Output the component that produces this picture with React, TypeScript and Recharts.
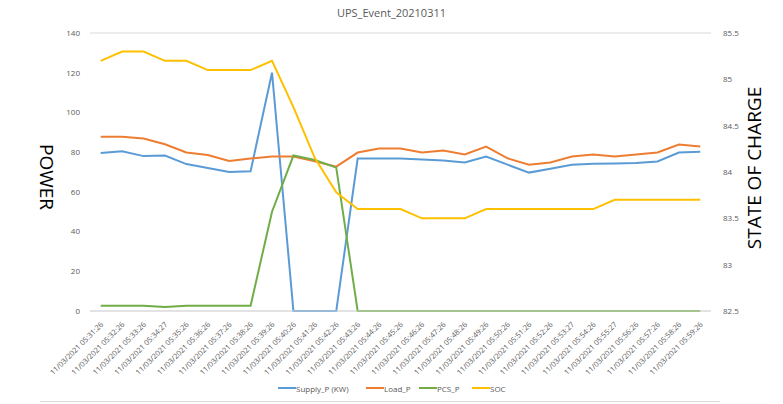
import React from 'react';
import { LineChart, Line, XAxis, YAxis, CartesianGrid } from 'recharts';

const times = [
  '05:31:26', '05:32:26', '05:33:26', '05:34:27', '05:35:26', '05:36:26', '05:37:26', '05:38:26',
  '05:39:26', '05:40:26', '05:41:26', '05:42:26', '05:43:26', '05:44:26', '05:45:26', '05:46:26',
  '05:47:26', '05:48:26', '05:49:26', '05:50:26', '05:51:26', '05:52:26', '05:53:27', '05:54:26',
  '05:55:27', '05:56:26', '05:57:26', '05:58:26', '05:59:26',
];
const supplyP = [79.6, 80.4, 78, 78.3, 74, 72, 70, 70.4, 120, 0, 0, 0, 76.8, 76.8, 76.8, 76.3, 75.8, 74.8, 77.8, 73.7, 69.7, 71.6, 73.6, 74.1, 74.3, 74.5, 75.3, 79.8, 80.2];
const loadP = [87.7, 87.7, 86.9, 84, 79.8, 78.6, 75.6, 76.8, 77.8, 77.8, 75.4, 72.7, 79.8, 81.8, 81.8, 79.8, 80.8, 78.8, 82.8, 76.9, 73.7, 74.8, 77.8, 78.8, 77.8, 78.8, 79.8, 83.8, 82.8];
const pcsP = [2.7, 2.7, 2.7, 2.0, 2.7, 2.7, 2.7, 2.7, 50, 78.3, 76, 72.2, 0, 0, 0, 0, 0, 0, 0, 0, 0, 0, 0, 0, 0, 0, 0, 0, 0];
const soc = [85.2, 85.3, 85.3, 85.2, 85.2, 85.1, 85.1, 85.1, 85.2, 84.7, 84.15, 83.78, 83.6, 83.6, 83.6, 83.5, 83.5, 83.5, 83.6, 83.6, 83.6, 83.6, 83.6, 83.6, 83.7, 83.7, 83.7, 83.7, 83.7];
const powerTicks = [0, 20, 40, 60, 80, 100, 120, 140];
const socTicks = [82.5, 83, 83.5, 84, 84.5, 85, 85.5];

const data = times.map((t, i) => ({
  label: '11/03/2021 ' + t,
  supply: supplyP[i],
  load: loadP[i],
  pcs: pcsP[i],
  soc: soc[i],
}));

const legendItems = [
  { name: 'Supply_P (KW)', color: '#5b9bd5', left: 278 },
  { name: 'Load_P', color: '#ed7d31', left: 366 },
  { name: 'PCS_P', color: '#70ad47', left: 419 },
  { name: 'SOC', color: '#ffc000', left: 472 },
];

const FONT = '"Open Sans", "Noto Sans", sans-serif';
const TEXT = '#595959';

const XTick = (props: any) => {
  const { x, y, payload } = props;
  return (
    <g transform={`translate(${x + 3},${y + 6})`}>
      <text
        x={0}
        y={0}
        textAnchor="end"
        transform="rotate(-45)"
        fontSize={7.5}
        fill={TEXT}
        fontFamily={FONT}
      >
        {payload.value}
      </text>
    </g>
  );
};

export default function App() {
  return (
    <div style={{ position: 'absolute', left: 0, top: 0, width: 783, height: 404, background: '#fff', fontFamily: FONT }}>
      <div style={{ position: 'absolute', top: 5, left: 0, width: 783, textAlign: 'center', fontSize: 11, color: TEXT }}>
        UPS_Event_20210311
      </div>
      <LineChart
        width={783}
        height={404}
        data={data}
        margin={{ top: 33, right: 0, left: 50, bottom: 18 }}
      >
        <CartesianGrid vertical={false} stroke="#d9d9d9" />
        <XAxis
          dataKey="label"
          interval={0}
          tick={<XTick />}
          tickLine={false}
          axisLine={{ stroke: '#d9d9d9' }}
          height={75}
          padding={{ left: 10.7, right: 10.7 }}
        />
        <YAxis
          yAxisId="left"
          domain={[0, 140]}
          ticks={powerTicks}
          width={40}
          tickLine={false}
          axisLine={false}
          tick={{ fontSize: 8, fill: TEXT, fontFamily: FONT }}
          tickMargin={4}
        />
        <YAxis
          yAxisId="right"
          orientation="right"
          domain={[82.5, 85.5]}
          ticks={socTicks}
          width={72}
          tickLine={false}
          axisLine={false}
          tick={{ fontSize: 8, fill: TEXT, fontFamily: FONT }}
          tickMargin={6}
        />
        <Line yAxisId="left" type="linear" dataKey="supply" stroke="#5b9bd5" strokeWidth={2} dot={false} isAnimationActive={false} />
        <Line yAxisId="left" type="linear" dataKey="load" stroke="#ed7d31" strokeWidth={2} dot={false} isAnimationActive={false} />
        <Line yAxisId="left" type="linear" dataKey="pcs" stroke="#70ad47" strokeWidth={2} dot={false} isAnimationActive={false} />
        <Line yAxisId="right" type="linear" dataKey="soc" stroke="#ffc000" strokeWidth={2} dot={false} isAnimationActive={false} />
      </LineChart>
      <div
        style={{
          position: 'absolute', left: 47, top: 177, fontSize: 19, color: '#000',
          transform: 'translate(-50%, -50%) rotate(90deg)', whiteSpace: 'nowrap',
        }}
      >
        POWER
      </div>
      <div
        style={{
          position: 'absolute', left: 754, top: 168, fontSize: 19, color: '#000',
          transform: 'translate(-50%, -50%) rotate(-90deg)', whiteSpace: 'nowrap',
        }}
      >
        STATE OF CHARGE
      </div>
      {legendItems.map((it) => (
        <div
          key={it.name}
          style={{ position: 'absolute', top: 382, left: it.left, display: 'flex', alignItems: 'center', fontSize: 8, color: TEXT, height: 12, whiteSpace: 'nowrap' }}
        >
          <div style={{ width: 18, height: 2, background: it.color }} />
          <span>{it.name}</span>
        </div>
      ))}
      <div style={{ position: 'absolute', top: 401, left: 40, width: 680, height: 1, background: '#d9d9d9' }} />
    </div>
  );
}
